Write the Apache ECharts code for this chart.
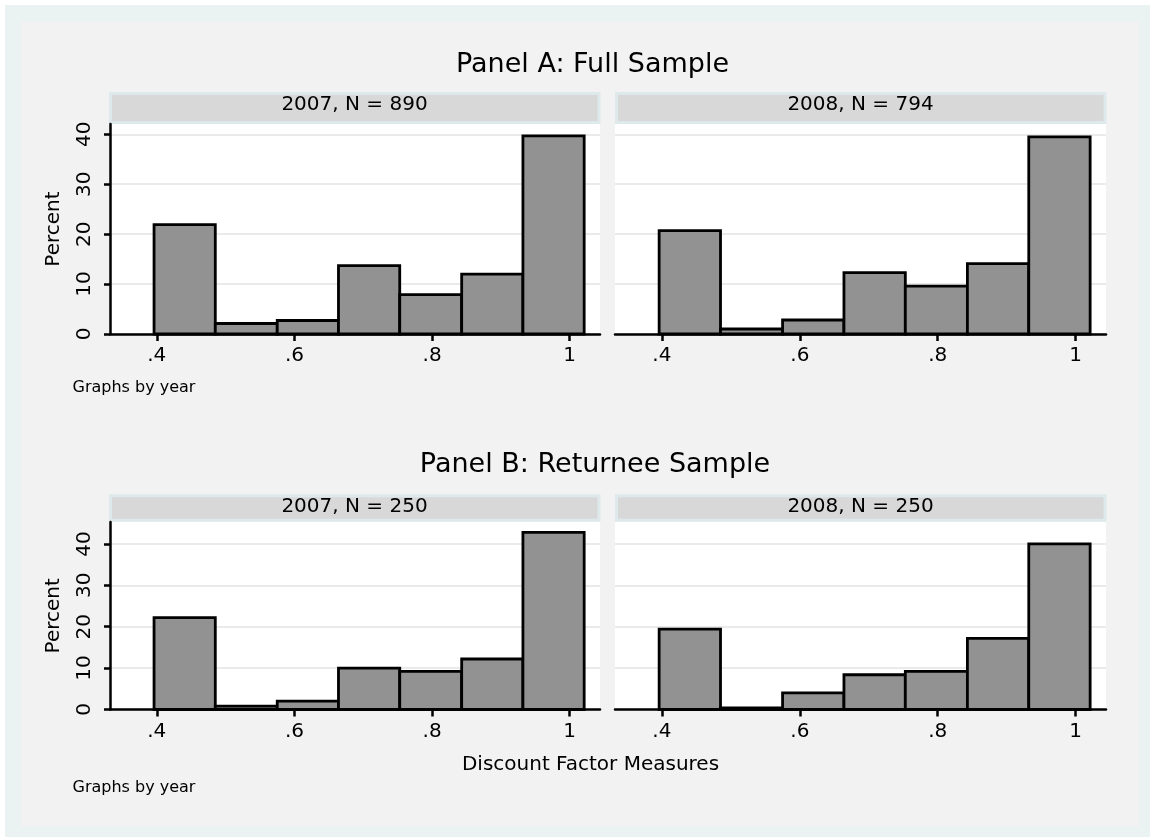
<!DOCTYPE html>
<html><head><meta charset="utf-8">
<script src="https://cdn.jsdelivr.net/npm/echarts@6/dist/echarts.min.js"></script>
<style>html,body{margin:0;padding:0;background:#fff;}#main{width:1150px;height:838px;}</style>
</head><body><div id="main"></div>
<script>
// ---- data ----
const binEdges = [0.396, 0.485, 0.575, 0.664, 0.753, 0.843, 0.932, 1.021];
const full2007 = [21.9, 2.1, 2.7, 13.7, 7.9, 12.0, 39.7];
const full2008 = [20.7, 1.0, 2.8, 12.3, 9.6, 14.1, 39.5];
const returnee2007 = [22.2, 0.8, 2.0, 10.0, 9.2, 12.2, 42.8];
const returnee2008 = [19.4, 0.4, 4.0, 8.4, 9.2, 17.2, 40.0];
const xTicks = [0.4, 0.6, 0.8, 1];
const xTickLabels = ['.4', '.6', '.8', '1'];
const yTicks = [0, 10, 20, 30, 40];
const panelTitles = ['Panel A: Full Sample', 'Panel B: Returnee Sample'];
const stripLabels = ['2007, N = 890', '2008, N = 794', '2007, N = 250', '2008, N = 250'];
const yTitle = 'Percent';
const xTitle = 'Discount Factor Measures';
const noteText = 'Graphs by year';

// ---- styling / layout ----
const FONT = 'DejaVu Sans';
const xRange = [0.332, 1.044];
const yMaxTop = 42.07, yMaxBottom = 45.3;
const grids = [
  {left: 110, top: 124, width: 490, height: 210},
  {left: 615, top: 124, width: 491, height: 210},
  {left: 110, top: 522, width: 490, height: 187.5},
  {left: 615, top: 522, width: 491, height: 187.5}
];
const seriesData = [full2007, full2008, returnee2007, returnee2008];

function makeBins(vals) {
  return vals.map((v, i) => [binEdges[i], binEdges[i + 1], v]);
}

const option = {
  backgroundColor: '#ffffff',
  animation: false,
  textStyle: {fontFamily: FONT},
  grid: grids.map(g => Object.assign({
    show: true, backgroundColor: '#ffffff', borderWidth: 0,
    containLabel: false, outerBoundsMode: 'none'
  }, g)),
  xAxis: grids.map((g, i) => ({
    type: 'value', gridIndex: i, min: xRange[0], max: xRange[1],
    axisLine: {show: true, onZero: false, lineStyle: {color: '#000', width: 2.5}},
    axisTick: {show: true, customValues: xTicks, length: 7, lineStyle: {color: '#000', width: 2.5}},
    axisLabel: {
      show: true, customValues: xTicks, fontSize: 20, color: '#000', fontFamily: FONT, margin: 12,
      formatter: v => { const k = xTicks.findIndex(t => Math.abs(t - v) < 1e-9); return k >= 0 ? xTickLabels[k] : ''; }
    },
    splitLine: {show: false}
  })),
  yAxis: grids.map((g, i) => {
    const isLeft = (i % 2 === 0);
    return {
      type: 'value', gridIndex: i, min: 0, max: i < 2 ? yMaxTop : yMaxBottom, interval: 10,
      name: isLeft ? yTitle : '', nameLocation: 'middle', nameGap: 46,
      nameTextStyle: {fontSize: 20, color: '#000', fontFamily: FONT},
      axisLine: {show: isLeft, lineStyle: {color: '#000', width: 2.5}},
      axisTick: {show: isLeft, customValues: yTicks, length: 6, lineStyle: {color: '#000', width: 2.5}},
      axisLabel: {show: isLeft, customValues: yTicks, rotate: 90, fontSize: 20, color: '#000', fontFamily: FONT, margin: 15},
      splitLine: {show: true, lineStyle: {color: '#EAEAEA', width: 2}}
    };
  }),
  series: seriesData.map((vals, i) => ({
    type: 'custom', xAxisIndex: i, yAxisIndex: i,
    data: makeBins(vals),
    encode: {x: [0, 1], y: 2},
    renderItem: (params, api) => {
      const p0 = api.coord([api.value(0), api.value(2)]);
      const p1 = api.coord([api.value(1), 0]);
      return {
        type: 'rect',
        shape: {x: p0[0], y: p0[1], width: p1[0] - p0[0], height: p1[1] - p0[1]},
        style: {fill: '#929292', stroke: '#000', lineWidth: 2.8}
      };
    },
    z: 3
  })),
  graphic: {elements: [
    {type: 'rect', z: -20, shape: {x: 5, y: 5, width: 1145, height: 832}, style: {fill: '#EAF2F2'}},
    {type: 'rect', z: -19, shape: {x: 21, y: 22, width: 1118, height: 804}, style: {fill: '#F2F2F2'}},
    // strips
    {type: 'rect', z: -5, shape: {x: 110.5, y: 93.5, width: 488.5, height: 29}, style: {fill: '#D8D8D8', stroke: '#DDE9EB', lineWidth: 3}},
    {type: 'rect', z: -5, shape: {x: 616.5, y: 93.5, width: 488.5, height: 29}, style: {fill: '#D8D8D8', stroke: '#DDE9EB', lineWidth: 3}},
    {type: 'rect', z: -5, shape: {x: 110.5, y: 495.8, width: 488.5, height: 24.4}, style: {fill: '#D8D8D8', stroke: '#DDE9EB', lineWidth: 3}},
    {type: 'rect', z: -5, shape: {x: 616.5, y: 495.8, width: 488.5, height: 24.4}, style: {fill: '#D8D8D8', stroke: '#DDE9EB', lineWidth: 3}},
    {type: 'text', z: 5, x: 354.5, y: 105, style: {text: stripLabels[0], fontSize: 20, fontFamily: FONT, fill: '#000', align: 'center', verticalAlign: 'middle'}},
    {type: 'text', z: 5, x: 860.5, y: 105, style: {text: stripLabels[1], fontSize: 20, fontFamily: FONT, fill: '#000', align: 'center', verticalAlign: 'middle'}},
    {type: 'text', z: 5, x: 354.5, y: 506.5, style: {text: stripLabels[2], fontSize: 20, fontFamily: FONT, fill: '#000', align: 'center', verticalAlign: 'middle'}},
    {type: 'text', z: 5, x: 860.5, y: 506.5, style: {text: stripLabels[3], fontSize: 20, fontFamily: FONT, fill: '#000', align: 'center', verticalAlign: 'middle'}},
    // panel titles
    {type: 'text', z: 5, x: 592.5, y: 65, style: {text: panelTitles[0], fontSize: 27, fontFamily: FONT, fill: '#000', align: 'center', verticalAlign: 'middle'}},
    {type: 'text', z: 5, x: 595, y: 465, style: {text: panelTitles[1], fontSize: 27, fontFamily: FONT, fill: '#000', align: 'center', verticalAlign: 'middle'}},
    // x title
    {type: 'text', z: 5, x: 590.5, y: 765, style: {text: xTitle, fontSize: 20, fontFamily: FONT, fill: '#000', align: 'center', verticalAlign: 'middle'}},
    // notes
    {type: 'text', z: 5, x: 72.5, y: 388, style: {text: noteText, fontSize: 16, fontFamily: FONT, fill: '#000', align: 'left', verticalAlign: 'middle'}},
    {type: 'text', z: 5, x: 72.5, y: 787.5, style: {text: noteText, fontSize: 16, fontFamily: FONT, fill: '#000', align: 'left', verticalAlign: 'middle'}}
  ]}
};

const chart = echarts.init(document.getElementById('main'), null, {renderer: 'canvas'});
chart.setOption(option);
</script>
</body></html>
